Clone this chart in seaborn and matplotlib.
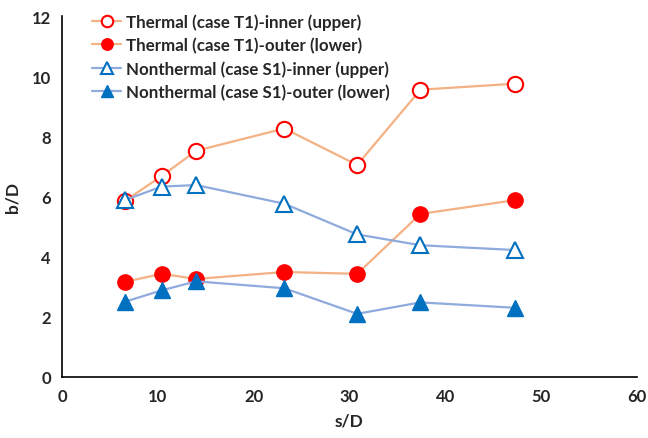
import matplotlib
matplotlib.use("Agg")
import matplotlib.pyplot as plt
import seaborn as sns
import numpy as np

sD = [6.55, 10.4, 14.0, 23.2, 30.8, 37.4, 47.3]
thermal_inner = [5.85, 6.68, 7.52, 8.26, 7.05, 9.55, 9.75]
thermal_outer = [3.16, 3.43, 3.26, 3.49, 3.43, 5.42, 5.88]
nonthermal_inner = [5.88, 6.33, 6.38, 5.76, 4.74, 4.38, 4.22]
nonthermal_outer = [2.5, 2.88, 3.18, 2.95, 2.1, 2.48, 2.3]

labels = ["Thermal (case T1)-inner (upper)",
          "Thermal (case T1)-outer (lower)",
          "Nonthermal (case S1)-inner (upper)",
          "Nonthermal (case S1)-outer (lower)"]

sns.set_style("white")
plt.rcParams['font.family'] = ['Lato', 'DejaVu Sans']
plt.rcParams['font.weight'] = 'bold'

fig = plt.figure(figsize=(6.48, 4.39), dpi=100)
ax = fig.add_axes([62/648, 1-378/439, 575/648, 361/439])

orange = "#F4B183"
red = "#FF0000"
lblue = "#8FAADC"
dblue = "#0070C0"

sns.lineplot(x=sD, y=thermal_inner, ax=ax, color=orange, lw=1.6, marker='o',
             markersize=11, markerfacecolor='white', markeredgecolor=red,
             markeredgewidth=1.5, label=labels[0])
sns.lineplot(x=sD, y=thermal_outer, ax=ax, color=orange, lw=1.6, marker='o',
             markersize=11, markerfacecolor=red, markeredgecolor=red,
             markeredgewidth=1.0, label=labels[1])
sns.lineplot(x=sD, y=nonthermal_inner, ax=ax, color=lblue, lw=1.6, marker='^',
             markersize=11, markerfacecolor='white', markeredgecolor=dblue,
             markeredgewidth=1.5, label=labels[2])
sns.lineplot(x=sD, y=nonthermal_outer, ax=ax, color=lblue, lw=1.6, marker='^',
             markersize=11, markerfacecolor=dblue, markeredgecolor=dblue,
             markeredgewidth=1.0, label=labels[3])

ax.set_xlim(0, 60)
ax.set_ylim(0, 12)
ax.set_xticks(range(0, 61, 10))
ax.set_yticks(range(0, 13, 2))
ax.tick_params(axis='both', length=0, labelsize=12, pad=8)
for t in ax.get_xticklabels() + ax.get_yticklabels():
    t.set_fontweight('bold')
ax.set_xlabel("s/D", fontsize=12.5, fontweight='bold', labelpad=6)
ax.set_ylabel("b/D", fontsize=12.5, fontweight='bold', labelpad=8)
for s in ['top', 'right']:
    ax.spines[s].set_visible(False)
for s in ['left', 'bottom']:
    ax.spines[s].set_color('black')
    ax.spines[s].set_linewidth(1.2)

leg = ax.legend(loc='upper left', bbox_to_anchor=(0.04, 1.025), frameon=False,
                prop={'weight': 'bold', 'size': 12.2}, handlelength=1.75,
                handletextpad=0.25, labelspacing=0.4, borderaxespad=0,
                markerscale=0.75)
ax.grid(False)

fig.savefig("out.png", dpi=100)
